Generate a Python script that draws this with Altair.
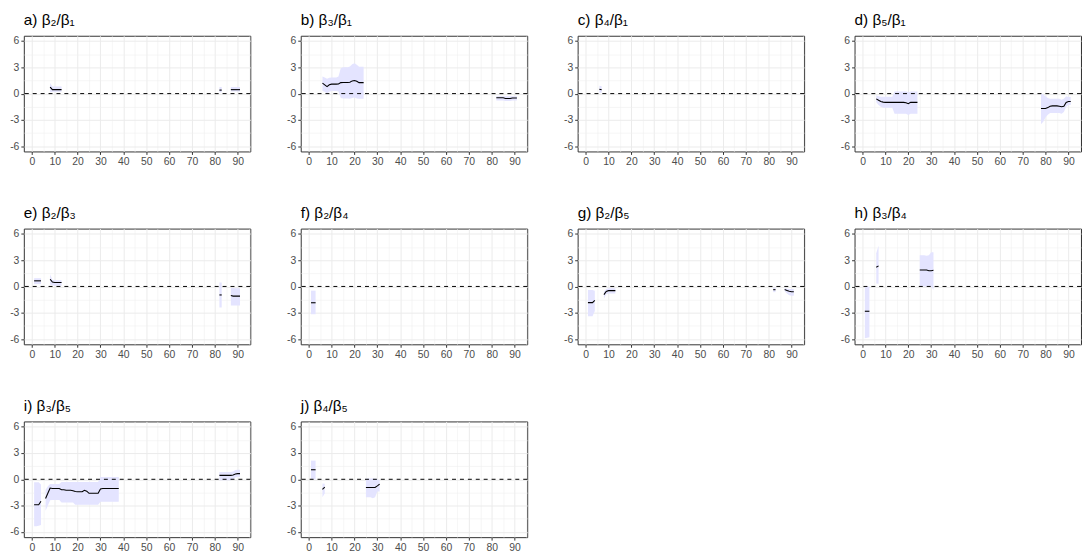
import altair as alt
import pandas as pd

FONT = "Liberation Sans"
RIBBON = "#E4E4FF"

TITLES = ["a) β₂/β₁", "b) β₃/β₁", "c) β₄/β₁", "d) β₅/β₁", "e) β₂/β₃",
          "f) β₂/β₄", "g) β₂/β₅", "h) β₃/β₄", "i) β₃/β₅", "j) β₄/β₅"]

X_MAJOR = [0, 10, 20, 30, 40, 50, 60, 70, 80, 90]
X_MINOR = [5, 15, 25, 35, 45, 55, 65, 75, 85, 95]
Y_MAJOR = [-6, -3, 0, 3, 6]
Y_MINOR = [-4.5, -1.5, 1.5, 4.5]
ZERO = [0]

# a) beta2/beta1
A_X = [8, 9, 10, 11, 12, 13, 82, 83, 87, 88, 89, 90, 91]
A_EST = [0.75, 0.45, 0.45, 0.45, 0.45, 0.45, 0.4, 0.4, 0.45, 0.45, 0.45, 0.45, 0.45]
A_LO = [0.15, 0.2, 0.2, 0.2, 0.2, 0.2, 0.15, 0.15, 0.25, 0.25, 0.25, 0.25, 0.25]
A_HI = [1.2, 0.8, 0.8, 0.8, 0.8, 0.8, 0.75, 0.75, 0.75, 0.75, 0.75, 0.75, 0.75]

# b) beta3/beta1
B_X = list(range(6, 25)) + list(range(82, 92))
B_EST = [1.2, 1.0, 0.8, 1.0, 1.08, 1.08, 1.08, 1.1, 1.25, 1.27, 1.27, 1.27, 1.3, 1.45, 1.5, 1.4, 1.25, 1.25, 1.25,
         -0.48, -0.48, -0.48, -0.48, -0.55, -0.55, -0.55, -0.5, -0.5, -0.5]
B_LO = [0.3, 0.2, 0.0, 0.2, 0.3, 0.3, 0.3, 0.25, -0.5, -0.55, -0.55, -0.55, -0.6, -0.5, -0.45, -0.55, -0.6, -0.6, -0.6,
        -0.8, -0.8, -0.8, -0.8, -0.85, -0.85, -0.85, -0.8, -0.8, -0.8]
B_HI = [1.95, 1.85, 1.7, 1.8, 1.85, 1.85, 1.85, 1.95, 2.9, 3.0, 3.0, 3.0, 3.1, 3.35, 3.45, 3.3, 3.05, 3.05, 3.05,
        -0.3, -0.3, -0.3, -0.3, -0.3, -0.3, -0.3, -0.3, -0.3, -0.3]

# c) beta4/beta1
C_X = [6, 7]
C_EST = [0.5, 0.45]
C_LO = [0.1, 0.1]
C_HI = [0.9, 0.85]

# d) beta5/beta1
D_X = list(range(6, 25)) + list(range(78, 92))
D_EST = [-0.6, -0.75, -0.9, -0.97, -1.0, -1.0, -1.0, -1.0, -1.0, -1.0, -1.0, -1.0, -1.0, -1.05, -1.15, -1.0, -1.0, -1.0, -1.0,
         -1.7, -1.7, -1.7, -1.6, -1.45, -1.4, -1.4, -1.4, -1.45, -1.5, -1.45, -1.0, -0.9, -0.9]
D_LO = [-1.0, -1.3, -1.5, -1.6, -1.6, -1.6, -1.6, -1.6, -2.3, -2.3, -2.3, -2.3, -2.3, -2.3, -2.45, -2.3, -2.3, -2.3, -2.3,
        -3.5, -3.2, -2.7, -2.4, -2.2, -2.2, -2.2, -2.2, -2.2, -2.3, -2.1, -1.5, -1.3, -1.3]
D_HI = [-0.2, -0.3, -0.35, -0.35, -0.35, -0.35, -0.35, -0.35, 0.25, 0.25, 0.25, 0.25, 0.25, 0.25, 0.15, 0.25, 0.25, 0.25, 0.25,
        0.0, -0.1, -0.3, -0.5, -0.6, -0.6, -0.6, -0.6, -0.6, -0.7, -0.6, -0.3, -0.4, -0.4]

# e) beta2/beta3
E_X = [1, 2, 3, 4, 8, 9, 10, 11, 12, 13, 82, 83, 87, 88, 89, 90, 91]
E_EST = [0.64, 0.64, 0.64, 0.64, 0.82, 0.5, 0.45, 0.45, 0.45, 0.45, -0.97, -0.97, -1.04, -1.1, -1.1, -1.1, -1.1]
E_LO = [0.27, 0.27, 0.27, 0.27, 0.2, 0.1, 0.08, 0.08, 0.08, 0.08, -2.4, -2.4, -2.16, -2.16, -2.16, -2.16, -2.16]
E_HI = [0.94, 0.94, 0.94, 0.94, 1.4, 0.75, 0.7, 0.7, 0.7, 0.7, 0.45, 0.45, -0.18, -0.18, -0.2, -0.2, -0.2]

# f) beta2/beta4
F_X = [1, 2, 3]
F_EST = [-1.86, -1.86, -1.86]
F_LO = [-3.17, -3.17, -3.17]
F_HI = [-0.48, -0.48, -0.48]

# g) beta2/beta5
G_X = [1, 2, 3, 4, 8, 9, 10, 11, 12, 13, 82, 83, 87, 88, 89, 90, 91]
G_EST = [-1.85, -1.85, -1.85, -1.6, -0.93, -0.56, -0.48, -0.48, -0.48, -0.48, -0.37, -0.37, -0.35, -0.45, -0.55, -0.6, -0.6]
G_LO = [-3.4, -3.4, -3.4, -2.8, -1.4, -0.9, -0.8, -0.8, -0.8, -0.8, -0.65, -0.65, -0.55, -0.8, -1.0, -1.05, -1.05]
G_HI = [-0.4, -0.4, -0.4, -0.5, -0.6, -0.3, -0.2, -0.2, -0.2, -0.2, -0.15, -0.15, -0.15, -0.25, -0.3, -0.3, -0.3]

# h) beta3/beta4
H_X = [1, 2, 3, 6, 7, 25, 26, 27, 28, 29, 30, 31]
H_EST = [-2.83, -2.83, -2.83, 2.2, 2.35, 1.87, 1.87, 1.87, 1.87, 1.8, 1.8, 1.85]
H_LO = [-5.9, -5.85, -5.8, 0.35, 0.3, 0.0, 0.0, 0.0, 0.0, 0.0, 0.0, -0.4]
H_HI = [0.0, 0.0, 0.0, 3.8, 4.66, 3.55, 3.55, 3.55, 3.5, 3.55, 3.9, 3.9]

# i) beta3/beta5
I_X = [1, 2, 3, 4] + list(range(6, 39)) + list(range(82, 92))
I_EST = [-2.9, -2.9, -2.9, -2.5,
         -2.2, -1.6, -1.0, -1.05, -1.05, -1.05, -1.05, -1.2, -1.2, -1.25, -1.25, -1.25, -1.3, -1.4,
         -1.42, -1.42, -1.42, -1.25, -1.35, -1.6, -1.6, -1.6, -1.6, -1.6, -1.1,
         -1.05, -1.05, -1.05, -1.05, -1.05, -1.05, -1.05, -1.05,
         0.45, 0.45, 0.45, 0.45, 0.45, 0.45, 0.5, 0.6, 0.65, 0.65]
I_LO = [-5.35, -5.35, -5.3, -5.2,
        -3.6, -3.0, -2.4, -2.35, -2.35, -2.35, -2.35, -2.65, -2.65, -2.65, -2.65, -2.65, -2.65,
        -2.9, -2.9, -2.9, -2.9, -2.9, -2.9, -2.9, -2.9, -2.9, -2.9, -2.9,
        -2.55, -2.55, -2.55, -2.55, -2.55, -2.55, -2.55, -2.55, -2.55,
        -0.1, -0.1, -0.1, -0.1, -0.1, -0.1, 0.0, 0.2, 0.27, 0.27]
I_HI = [-0.35, -0.35, -0.35, -0.6,
        -1.2, -0.8, -0.55, -0.55, -0.55, -0.55, -0.55, -0.3, -0.3, -0.3, -0.3, -0.3, -0.3,
        -0.3, -0.3, -0.3, -0.3, -0.3, -0.3, -0.3, -0.3, -0.3, -0.3, -0.3,
        0.25, 0.25, 0.25, 0.25, 0.25, 0.25, 0.25, 0.25, 0.25,
        0.83, 0.83, 0.83, 0.83, 0.83, 0.83, 0.9, 1.05, 1.09, 1.09]

# j) beta4/beta5
J_X = [1, 2, 3, 6, 7, 25, 26, 27, 28, 29, 30, 31]
J_EST = [1.09, 1.09, 1.09, -1.15, -0.9, -0.93, -0.93, -0.93, -0.93, -0.93, -0.75, -0.55]
J_LO = [0.0, 0.0, 0.0, -2.05, -1.6, -2.05, -2.05, -2.05, -2.15, -2.05, -1.4, -1.4]
J_HI = [2.13, 2.13, 2.13, -0.48, -0.5, 0.1, 0.1, 0.1, 0.1, 0.1, 0.0, -0.1]

PANELS = [
    (A_X, A_EST, A_LO, A_HI), (B_X, B_EST, B_LO, B_HI), (C_X, C_EST, C_LO, C_HI),
    (D_X, D_EST, D_LO, D_HI), (E_X, E_EST, E_LO, E_HI), (F_X, F_EST, F_LO, F_HI),
    (G_X, G_EST, G_LO, G_HI), (H_X, H_EST, H_LO, H_HI), (I_X, I_EST, I_LO, I_HI),
    (J_X, J_EST, J_LO, J_HI),
]

PW, PH = 229, 117


def make_panel(title, xs, est, lo, hi):
    seg = []
    s = 0
    for i, xv in enumerate(xs):
        if i > 0 and xv - xs[i - 1] > 1:
            s += 1
        seg.append(s)
    df = pd.DataFrame({"x": xs, "est": est, "lo": lo, "hi": hi, "seg": seg})
    xscale = alt.Scale(domain=[-3.5, 95.5], nice=False, zero=False)
    yscale = alt.Scale(domain=[-6.6, 6.6], nice=False, zero=False)
    minor_ax = dict(grid=True, gridColor="#EFEFEF", gridWidth=0.6, labels=False,
                    ticks=False, domain=False, title=None)
    major_common = dict(grid=True, gridColor="#EBEBEB", gridWidth=1.0, ticks=True,
                        tickColor="#333333", tickSize=3, tickWidth=1, domain=False,
                        title=None, labelFont=FONT, labelFontSize=10.5,
                        labelColor="#4D4D4D", labelPadding=2)
    base = alt.Chart(df)
    ribbon = base.mark_area(color=RIBBON, opacity=1).encode(
        x=alt.X("x:Q", scale=xscale,
                axis=alt.Axis(orient="top", values=X_MINOR, **minor_ax)),
        y=alt.Y("lo:Q", scale=yscale,
                axis=alt.Axis(orient="right", values=Y_MINOR, **minor_ax)),
        y2="hi:Q",
        detail="seg:N",
    )
    zero = alt.Chart(pd.DataFrame({"v": ZERO})).mark_rule(
        color="black", strokeDash=[4, 4], strokeWidth=1
    ).encode(y=alt.Y("v:Q", scale=yscale, axis=None))
    line = base.mark_line(color="black", strokeWidth=1.1).encode(
        x=alt.X("x:Q", scale=xscale,
                axis=alt.Axis(orient="bottom", values=X_MAJOR, **major_common)),
        y=alt.Y("est:Q", scale=yscale,
                axis=alt.Axis(orient="left", values=Y_MAJOR,
                              labelExpr="'' + datum.value", **major_common)),
        detail="seg:N",
    )
    return alt.layer(ribbon, zero, line).resolve_axis(
        x="independent", y="independent"
    ).properties(
        width=PW, height=PH,
        view=alt.ViewBackground(stroke="#333333", strokeWidth=1, fill="white"),
        title=alt.TitleParams(title, anchor="start", frame="group", fontSize=15.5,
                              font=FONT, fontWeight="normal", color="black", offset=7),
    )


charts = [make_panel(t, *p) for t, p in zip(TITLES, PANELS)]

chart = alt.concat(*charts, columns=4, spacing={"row": 78, "column": 51},
                   bounds="flush").properties(
    padding={"left": 1, "top": 2, "right": 0, "bottom": 0}
).configure_view(
    stroke="#333333", strokeWidth=1
).configure(background="white")

chart.save("out.html", embed_options={"renderer": "svg", "actions": False})
